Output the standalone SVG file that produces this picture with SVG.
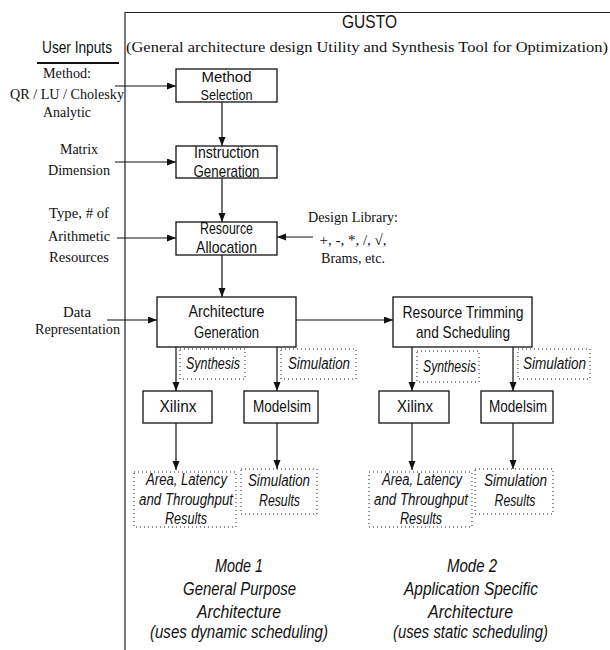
<svg xmlns="http://www.w3.org/2000/svg" width="610" height="650" viewBox="0 0 610 650">
<style>
.bg{fill:#fff}
.frame{fill:none;stroke:#222;stroke-width:1.2}
.box{fill:#fff;stroke:#111;stroke-width:1.3}
.dot{fill:none;stroke:#222;stroke-width:1;stroke-dasharray:1 3}
.ln{fill:none;stroke:#111;stroke-width:1.2}
.sans{font-family:"Liberation Sans",Arial,sans-serif;fill:#111}
.lbl{font-size:17px}
.it{font-style:italic}
.serif{font-family:"Liberation Serif","Times New Roman",serif;font-size:15px;fill:#111}
.m{text-anchor:middle}
</style>
<defs>
<marker id="ah" markerUnits="userSpaceOnUse" markerWidth="10" markerHeight="8" refX="9" refY="3.5" orient="auto">
<path d="M0,0 L9,3.5 L0,7 z" fill="#111"/>
</marker>
</defs>
<rect class="bg" x="0" y="0" width="610" height="650"/>

<g id="frame">
<path class="frame" d="M125,650 V12.5 H610"/>
<text class="sans m" x="369.5" y="28" font-size="18" textLength="55" lengthAdjust="spacingAndGlyphs">GUSTO</text>
<text class="serif" x="126" y="52" font-size="18" textLength="482" lengthAdjust="spacingAndGlyphs">(General architecture design Utility and Synthesis Tool for Optimization)</text>
</g>

<g id="user-inputs">
<text class="sans" x="42" y="53" font-size="17" textLength="70" lengthAdjust="spacingAndGlyphs">User Inputs</text>
<line x1="37" y1="63" x2="119" y2="63" stroke="#111" stroke-width="2"/>
<text class="serif m" x="67" y="78" textLength="48" lengthAdjust="spacingAndGlyphs">Method:</text>
<text class="serif" x="10" y="99" textLength="114" lengthAdjust="spacingAndGlyphs">QR / LU / Cholesky</text>
<text class="serif m" x="67" y="117" textLength="48" lengthAdjust="spacingAndGlyphs">Analytic</text>
<text class="serif m" x="79" y="154" textLength="38" lengthAdjust="spacingAndGlyphs">Matrix</text>
<text class="serif m" x="79" y="175" textLength="62" lengthAdjust="spacingAndGlyphs">Dimension</text>
<text class="serif m" x="79" y="218" textLength="60" lengthAdjust="spacingAndGlyphs">Type, # of</text>
<text class="serif m" x="79" y="241" textLength="62" lengthAdjust="spacingAndGlyphs">Arithmetic</text>
<text class="serif m" x="79" y="262" textLength="60" lengthAdjust="spacingAndGlyphs">Resources</text>
<text class="serif m" x="77" y="317" textLength="28" lengthAdjust="spacingAndGlyphs">Data</text>
<text class="serif m" x="77.5" y="334" textLength="85" lengthAdjust="spacingAndGlyphs">Representation</text>
</g>

<g id="design-library">
<text class="serif m" x="353" y="222" textLength="90" lengthAdjust="spacingAndGlyphs">Design Library:</text>
<text class="serif m" x="353" y="245">+, -, *, /, √,</text>
<text class="serif m" x="353" y="263" textLength="64" lengthAdjust="spacingAndGlyphs">Brams, etc.</text>
</g>

<g id="connectors">
<line class="ln" x1="115" y1="86" x2="176" y2="86" marker-end="url(#ah)"/>
<line class="ln" x1="115" y1="162" x2="176" y2="162" marker-end="url(#ah)"/>
<line class="ln" x1="117" y1="238" x2="176" y2="238" marker-end="url(#ah)"/>
<line class="ln" x1="107" y1="320" x2="157" y2="320" marker-end="url(#ah)"/>
<line class="ln" x1="313" y1="237" x2="277" y2="237" marker-end="url(#ah)"/>
<line class="ln" x1="222" y1="102" x2="222" y2="146" marker-end="url(#ah)"/>
<line class="ln" x1="222" y1="178" x2="222" y2="222" marker-end="url(#ah)"/>
<line class="ln" x1="222" y1="255" x2="222" y2="297" marker-end="url(#ah)"/>
<line class="ln" x1="296" y1="320" x2="393" y2="320" marker-end="url(#ah)"/>
<line class="ln" x1="176" y1="347" x2="176" y2="391" marker-end="url(#ah)"/>
<line class="ln" x1="277" y1="347" x2="277" y2="391" marker-end="url(#ah)"/>
<line class="ln" x1="412" y1="347" x2="412" y2="391" marker-end="url(#ah)"/>
<line class="ln" x1="513" y1="347" x2="513" y2="391" marker-end="url(#ah)"/>
<line class="ln" x1="176" y1="423" x2="176" y2="470" marker-end="url(#ah)"/>
<line class="ln" x1="277" y1="423" x2="277" y2="469" marker-end="url(#ah)"/>
<line class="ln" x1="412" y1="423" x2="412" y2="470" marker-end="url(#ah)"/>
<line class="ln" x1="513" y1="423" x2="513" y2="469" marker-end="url(#ah)"/>
</g>

<g id="method-selection">
<rect class="box" x="176" y="69" width="101" height="33"/>
<text class="sans m" x="226.5" y="82" font-size="15" textLength="50" lengthAdjust="spacingAndGlyphs">Method</text>
<text class="sans m" x="226.5" y="99.5" font-size="15" textLength="52" lengthAdjust="spacingAndGlyphs">Selection</text>
</g>

<g id="instruction-generation">
<rect class="box" x="176" y="146" width="101" height="32"/>
<text class="sans lbl m" x="226.5" y="158" textLength="65" lengthAdjust="spacingAndGlyphs">Instruction</text>
<text class="sans lbl m" x="226.5" y="177" textLength="66" lengthAdjust="spacingAndGlyphs">Generation</text>
</g>

<g id="resource-allocation">
<rect class="box" x="176" y="222" width="101" height="33"/>
<text class="sans lbl m" x="226.5" y="234" textLength="53" lengthAdjust="spacingAndGlyphs">Resource</text>
<text class="sans lbl m" x="226.5" y="253" textLength="61" lengthAdjust="spacingAndGlyphs">Allocation</text>
</g>

<g id="architecture-generation">
<rect class="box" x="157" y="297" width="139" height="50"/>
<text class="sans lbl m" x="226.5" y="317" textLength="76" lengthAdjust="spacingAndGlyphs">Architecture</text>
<text class="sans lbl m" x="226.5" y="338" textLength="65" lengthAdjust="spacingAndGlyphs">Generation</text>
</g>

<g id="resource-trimming">
<rect class="box" x="393" y="297" width="139" height="50"/>
<text class="sans lbl m" x="463" y="318" textLength="121" lengthAdjust="spacingAndGlyphs">Resource Trimming</text>
<text class="sans lbl m" x="463" y="338" textLength="94" lengthAdjust="spacingAndGlyphs">and Scheduling</text>
</g>

<g id="synthesis-1">
<rect class="dot" x="180" y="349" width="65" height="30"/>
<text class="sans it m" x="213" y="369" font-size="16" textLength="54" lengthAdjust="spacingAndGlyphs">Synthesis</text>
</g>
<g id="simulation-1">
<rect class="dot" x="281" y="349" width="75" height="30"/>
<text class="sans it m" x="319" y="369" font-size="16" textLength="62" lengthAdjust="spacingAndGlyphs">Simulation</text>
</g>
<g id="synthesis-2">
<rect class="dot" x="417" y="351" width="62" height="31"/>
<text class="sans it m" x="449.5" y="372" font-size="16" textLength="53" lengthAdjust="spacingAndGlyphs">Synthesis</text>
</g>
<g id="simulation-2">
<rect class="dot" x="518" y="349" width="72" height="30"/>
<text class="sans it m" x="554.5" y="369" font-size="16" textLength="63" lengthAdjust="spacingAndGlyphs">Simulation</text>
</g>

<g id="xilinx-1">
<rect class="box" x="143" y="391" width="69" height="32"/>
<text class="sans lbl m" x="178" y="412" textLength="37" lengthAdjust="spacingAndGlyphs">Xilinx</text>
</g>
<g id="modelsim-1">
<rect class="box" x="244" y="391" width="74" height="32"/>
<text class="sans lbl m" x="282" y="412" textLength="58" lengthAdjust="spacingAndGlyphs">Modelsim</text>
</g>
<g id="xilinx-2">
<rect class="box" x="379" y="391" width="70" height="32"/>
<text class="sans lbl m" x="415" y="412" textLength="36" lengthAdjust="spacingAndGlyphs">Xilinx</text>
</g>
<g id="modelsim-2">
<rect class="box" x="481" y="391" width="72" height="32"/>
<text class="sans lbl m" x="518" y="412" textLength="58" lengthAdjust="spacingAndGlyphs">Modelsim</text>
</g>

<g id="area-results-1">
<rect class="dot" x="134" y="472" width="102" height="55"/>
<text class="sans it m" x="186.5" y="485" font-size="16" textLength="81" lengthAdjust="spacingAndGlyphs">Area, Latency</text>
<text class="sans it m" x="186" y="505" font-size="16" textLength="94" lengthAdjust="spacingAndGlyphs">and Throughput</text>
<text class="sans it m" x="186" y="524" font-size="16" textLength="42" lengthAdjust="spacingAndGlyphs">Results</text>
</g>
<g id="sim-results-1">
<rect class="dot" x="241" y="469" width="76" height="45"/>
<text class="sans it m" x="279" y="486" font-size="16" textLength="62" lengthAdjust="spacingAndGlyphs">Simulation</text>
<text class="sans it m" x="279.5" y="506" font-size="16" textLength="41" lengthAdjust="spacingAndGlyphs">Results</text>
</g>
<g id="area-results-2">
<rect class="dot" x="369" y="472" width="103" height="55"/>
<text class="sans it m" x="422" y="485" font-size="16" textLength="80" lengthAdjust="spacingAndGlyphs">Area, Latency</text>
<text class="sans it m" x="421" y="505" font-size="16" textLength="94" lengthAdjust="spacingAndGlyphs">and Throughput</text>
<text class="sans it m" x="421" y="524" font-size="16" textLength="42" lengthAdjust="spacingAndGlyphs">Results</text>
</g>
<g id="sim-results-2">
<rect class="dot" x="475" y="469" width="78" height="45"/>
<text class="sans it m" x="515.5" y="486" font-size="16" textLength="63" lengthAdjust="spacingAndGlyphs">Simulation</text>
<text class="sans it m" x="515" y="506" font-size="16" textLength="41" lengthAdjust="spacingAndGlyphs">Results</text>
</g>

<g id="mode-1">
<text class="sans it m" x="239" y="572" font-size="18" textLength="48" lengthAdjust="spacingAndGlyphs">Mode 1</text>
<text class="sans it m" x="239.5" y="595" font-size="18" textLength="113" lengthAdjust="spacingAndGlyphs">General Purpose</text>
<text class="sans it m" x="239" y="618" font-size="18" textLength="84" lengthAdjust="spacingAndGlyphs">Architecture</text>
<text class="sans it m" x="239" y="638" font-size="18" textLength="178" lengthAdjust="spacingAndGlyphs">(uses dynamic scheduling)</text>
</g>
<g id="mode-2">
<text class="sans it m" x="472" y="572" font-size="18" textLength="50" lengthAdjust="spacingAndGlyphs">Mode 2</text>
<text class="sans it m" x="471" y="595" font-size="18" textLength="134" lengthAdjust="spacingAndGlyphs">Application Specific</text>
<text class="sans it m" x="470.5" y="618" font-size="18" textLength="85" lengthAdjust="spacingAndGlyphs">Architecture</text>
<text class="sans it m" x="470.5" y="638" font-size="18" textLength="155" lengthAdjust="spacingAndGlyphs">(uses static scheduling)</text>
</g>
</svg>
